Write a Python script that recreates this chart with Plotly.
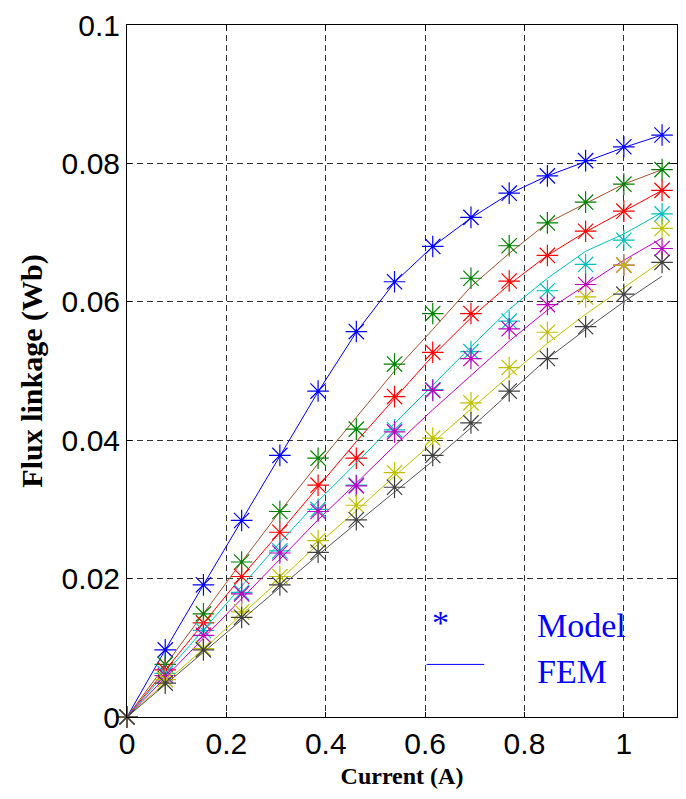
import plotly.graph_objects as go

# Current sample points (A)
current = [k / 13 for k in range(15)]

# Flux linkage (Wb) from the analytical model (markers)
model_blue = [0, 0.0097, 0.0191, 0.0284, 0.0378, 0.0471, 0.0557, 0.0629, 0.0680, 0.0722, 0.0757, 0.0782, 0.0804, 0.0824, 0.0841]
model_green = [0, 0.0076, 0.0149, 0.0224, 0.0297, 0.0374, 0.0416, 0.0510, 0.0583, 0.0634, 0.0681, 0.0714, 0.0744, 0.0770, 0.0791]
model_red = [0, 0.0068, 0.0136, 0.0203, 0.0267, 0.0335, 0.0374, 0.0463, 0.0527, 0.0583, 0.0630, 0.0667, 0.0702, 0.0731, 0.0761]
model_cyan = [0, 0.0063, 0.0125, 0.0180, 0.0240, 0.0300, 0.0335, 0.0415, 0.0473, 0.0528, 0.0572, 0.0616, 0.0654, 0.0689, 0.0727]
model_magenta = [0, 0.0060, 0.0118, 0.0178, 0.0237, 0.0297, 0.0334, 0.0412, 0.0472, 0.0518, 0.0561, 0.0596, 0.0625, 0.0653, 0.0677]
model_yellow = [0, 0.0054, 0.0099, 0.0152, 0.0203, 0.0255, 0.0306, 0.0353, 0.0403, 0.0454, 0.0505, 0.0556, 0.0607, 0.0653, 0.0706]
model_gray = [0, 0.0049, 0.0097, 0.0144, 0.0191, 0.0238, 0.0285, 0.0332, 0.0378, 0.0425, 0.0471, 0.0518, 0.0564, 0.0611, 0.0657]

# Flux linkage (Wb) from finite-element analysis (lines)
fem_blue = [0, 0.0097, 0.0191, 0.0283, 0.0377, 0.0470, 0.0556, 0.0628, 0.0680, 0.0721, 0.0756, 0.0782, 0.0803, 0.0823, 0.0841]
fem_brown = [0, 0.0075, 0.0149, 0.0224, 0.0297, 0.0366, 0.0433, 0.0500, 0.0560, 0.0622, 0.0670, 0.0714, 0.0742, 0.0770, 0.0791]
fem_red = [0, 0.0068, 0.0136, 0.0203, 0.0267, 0.0332, 0.0398, 0.0460, 0.0522, 0.0577, 0.0625, 0.0667, 0.0701, 0.0731, 0.0761]
fem_cyan = [0, 0.0063, 0.0126, 0.0189, 0.0252, 0.0312, 0.0367, 0.0424, 0.0480, 0.0535, 0.0589, 0.0634, 0.0673, 0.0698, 0.0729]
fem_magenta = [0, 0.0057, 0.0114, 0.0171, 0.0228, 0.0285, 0.0338, 0.0392, 0.0444, 0.0494, 0.0543, 0.0588, 0.0624, 0.0660, 0.0692]
fem_yellow = [0, 0.0050, 0.0098, 0.0148, 0.0198, 0.0250, 0.0298, 0.0348, 0.0397, 0.0445, 0.0493, 0.0540, 0.0582, 0.0620, 0.0659]
fem_gray = [0, 0.0047, 0.0094, 0.0141, 0.0188, 0.0234, 0.0280, 0.0325, 0.0370, 0.0418, 0.0468, 0.0518, 0.0560, 0.0600, 0.0637]

x_ticks = [0, 0.2, 0.4, 0.6, 0.8, 1.0]
x_tick_labels = ["0", "0.2", "0.4", "0.6", "0.8", "1"]
y_ticks = [0, 0.02, 0.04, 0.06, 0.08, 0.1]
y_tick_labels = ["0", "0.02", "0.04", "0.06", "0.08", "0.1"]

series = [
    (model_blue, fem_blue, "#0000FF", "#0000FF"),
    (model_green, fem_brown, "#008000", "#A0522D"),
    (model_red, fem_red, "#FF0000", "#FF0000"),
    (model_cyan, fem_cyan, "#00BFBF", "#00BFBF"),
    (model_magenta, fem_magenta, "#BF00BF", "#BF00BF"),
    (model_yellow, fem_yellow, "#BFBF00", "#BFBF00"),
    (model_gray, fem_gray, "#404040", "#555555"),
]

fig = go.Figure()
for model, fem, mcolor, lcolor in series:
    fig.add_trace(go.Scatter(
        x=current, y=fem, mode="lines",
        line=dict(color=lcolor, width=1), showlegend=False, hoverinfo="skip",
    ))
    fig.add_trace(go.Scatter(
        x=current, y=model, mode="markers", cliponaxis=False,
        marker=dict(symbol="asterisk-open", size=18, color=mcolor,
                    line=dict(color=mcolor, width=1.2)),
        showlegend=False,
    ))

# In-plot key: "*" for the model, a short line for FEM
fig.add_trace(go.Scatter(
    x=[0.603, 0.719], y=[0.0076, 0.0076], mode="lines",
    line=dict(color="#0000FF", width=1), showlegend=False, hoverinfo="skip",
))
serif = "Liberation Serif, Times New Roman, serif"
fig.add_annotation(x=0.63, y=0.0137, text="*", showarrow=False,
                   font=dict(family=serif, size=34, color="#0000FF"),
                   xanchor="center", yanchor="middle")
fig.add_annotation(x=0.822, y=0.0132, text="Model", showarrow=False,
                   font=dict(family=serif, size=34, color="#0000FF"),
                   xanchor="left", yanchor="middle")
fig.add_annotation(x=0.822, y=0.0066, text="FEM", showarrow=False,
                   font=dict(family=serif, size=34, color="#0000FF"),
                   xanchor="left", yanchor="middle")

axis_common = dict(
    showline=True, linecolor="black", linewidth=1, mirror="ticks",
    ticks="inside", ticklen=5, tickcolor="black",
    showgrid=True, gridcolor="#333333", griddash="6px,4px", gridwidth=1,
    zeroline=False,
    tickfont=dict(family="Liberation Sans, Arial, sans-serif", size=30, color="black"),
)

fig.update_xaxes(
    range=[0, 1.107], tickvals=x_ticks, ticktext=x_tick_labels,
    title=dict(text="<b>Current (A)</b>", standoff=8,
               font=dict(family=serif, size=24, color="black")),
    **axis_common,
)
fig.update_yaxes(
    range=[0, 0.1], tickvals=y_ticks, ticktext=y_tick_labels,
    title=dict(text="<b>Flux linkage (Wb)</b>", standoff=10,
               font=dict(family=serif, size=30, color="black")),
    **axis_common,
)

fig.update_layout(
    width=686, height=799,
    margin=dict(l=127, r=8, t=22, b=82),
    plot_bgcolor="white", paper_bgcolor="white",
    showlegend=False,
)

fig.write_html("out.html")
